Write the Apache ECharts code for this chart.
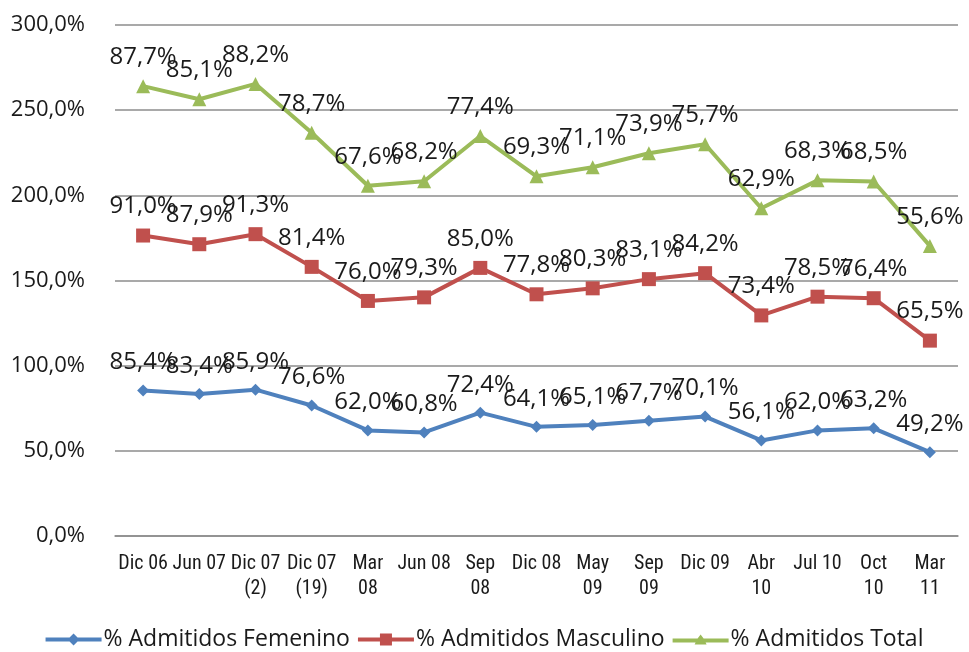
<!DOCTYPE html>
<html>
<head>
<meta charset="utf-8">
<script src="https://cdn.jsdelivr.net/npm/echarts@6/dist/echarts.min.js"></script>
<style>
  html, body { margin: 0; padding: 0; background: #fff; }
  #chart { width: 969px; height: 652px; }
</style>
</head>
<body>
<div id="chart"></div>
<script>
// periodos
var categories = ['Dic 06', 'Jun 07', 'Dic 07\n(2)', 'Dic 07\n(19)', 'Mar\n08', 'Jun 08', 'Sep\n08', 'Dic 08',
  'May\n09', 'Sep\n09', 'Dic 09', 'Abr\n10', 'Jul 10', 'Oct\n10', 'Mar\n11'];
var femenino = [85.4, 83.4, 85.9, 76.6, 62.0, 60.8, 72.4, 64.1, 65.1, 67.7, 70.1, 56.1, 62.0, 63.2, 49.2];
var masculino = [91.0, 87.9, 91.3, 81.4, 76.0, 79.3, 85.0, 77.8, 80.3, 83.1, 84.2, 73.4, 78.5, 76.4, 65.5];
var total = [87.7, 85.1, 88.2, 78.7, 67.6, 68.2, 77.4, 69.3, 71.1, 73.9, 75.7, 62.9, 68.3, 68.5, 55.6];
var yTicks = [0, 300, 50]; // min, max, interval

function pct(v) {
  return v.toFixed(1).replace('.', ',') + '%';
}

function makeSeries(name, data, color, symbol, size) {
  return {
    name: name,
    type: 'line',
    stack: 'total',
    data: data,
    symbol: symbol,
    symbolSize: size,
    lineStyle: { color: color, width: 4 },
    itemStyle: { color: color },
    label: {
      show: true,
      position: 'top',
      distance: 10,
      color: '#1a1a1a',
      fontSize: 24,
      fontFamily: 'Open Sans',
      formatter: function (p) { return pct(p.value); }
    },
    labelLayout: { hideOverlap: false },
    animation: false
  };
}

var legendNames = ['% Admitidos Femenino', '% Admitidos Masculino', '% Admitidos Total'];
// iconos de leyenda: linea gruesa + marcador
var legendIcons = [
  'path://M0,4H24L28,0L32,4H56V8H32L28,12L24,8H0Z',
  'path://M0,4H22V0H34V4H56V8H34V12H22V8H0Z',
  'path://M0,4H25L28,0L31,4H56V8H33L34,10H22L23,8H0Z'
];

var myChart = echarts.init(document.getElementById('chart'));
var option = {
  backgroundColor: '#fff',
  grid: { left: 115, right: 11, top: 25, bottom: 116 },
  legend: {
    bottom: -4,
    left: 'center',
    itemWidth: 56,
    itemHeight: 12,
    itemGap: 8,
    textStyle: { fontSize: 23, color: '#1a1a1a', fontFamily: 'Open Sans', padding: [0, 0, 0, -3] },
    data: legendNames.map(function (n, i) { return { name: n, icon: legendIcons[i] }; })
  },
  xAxis: {
    type: 'category',
    data: categories,
    boundaryGap: true,
    axisLine: { lineStyle: { color: '#8c8c8c', width: 1.5 } },
    axisTick: { show: false },
    axisLabel: {
      interval: 0,
      margin: 15,
      fontSize: 20,
      lineHeight: 25,
      color: '#1a1a1a',
      fontFamily: "'Liberation Sans Narrow', 'Roboto Condensed', 'Liberation Sans'"
    }
  },
  yAxis: {
    type: 'value',
    min: yTicks[0],
    max: yTicks[1],
    interval: yTicks[2],
    axisLine: { show: false },
    axisTick: { show: false },
    splitLine: { lineStyle: { color: '#8c8c8c', width: 1.5 } },
    axisLabel: {
      margin: 30,
      fontSize: 22,
      color: '#1a1a1a',
      fontFamily: 'Open Sans',
      formatter: function (v) { return pct(v); }
    }
  },
  series: [
    makeSeries(legendNames[0], femenino, '#4f81bd', 'diamond', 12),
    makeSeries(legendNames[1], masculino, '#c0504d', 'rect', 14),
    makeSeries(legendNames[2], total, '#9bbb59', 'triangle', 14)
  ]
};
myChart.setOption(option);
</script>
</body>
</html>
